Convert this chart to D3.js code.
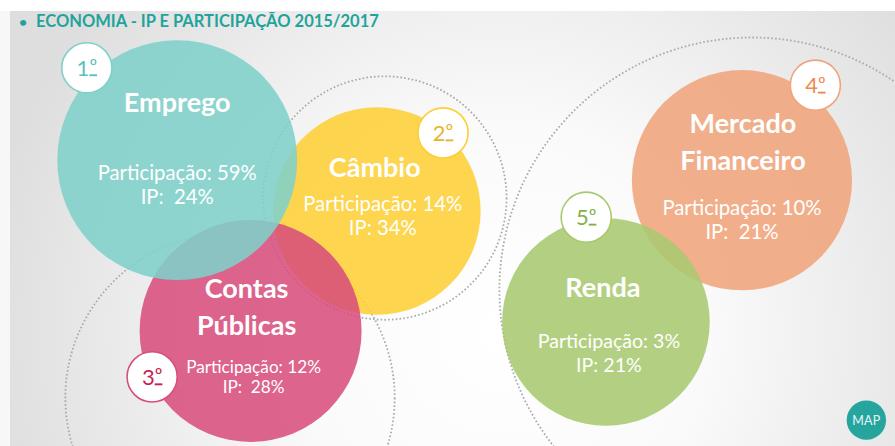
<!DOCTYPE html>
<html>
<head>
<meta charset="utf-8">
<script src="https://cdn.jsdelivr.net/npm/d3@7"></script>
<style>
  html, body { margin: 0; padding: 0; background: #f6f6f6; }
  svg { display: block; font-family: Lato, "Open Sans", sans-serif; }
  text { white-space: pre; }
</style>
</head>
<body>
<div id="chart"></div>
<script>
// data
const categories = ["Emprego", "Câmbio", "Contas Públicas", "Mercado Financeiro", "Renda"];
const titleLines = [["Emprego"], ["Câmbio"], ["Contas", "Públicas"], ["Mercado", "Financeiro"], ["Renda"]];
const participacao = [59, 14, 12, 10, 3];
const ip = [24, 34, 28, 21, 21];
const ipGap = [2, 1, 2, 2, 1];
const ranks = [1, 2, 3, 4, 5];

// layout, in percent of the slide (x and r on width, y on height)
const bubbleLayout = [
	{ cx: 19.8, cy: 35.9, r: 13.4 },
	{ cx: 42.1, cy: 47.3, r: 11.6 },
	{ cx: 28.0, cy: 74.2, r: 12.4 },
	{ cx: 82.9, cy: 40.4, r: 12.3 },
	{ cx: 67.7, cy: 72.2, r: 11.6 }
];
const badgeLayout = [
	{ cx: 9.7, cy: 15.2 },
	{ cx: 49.5, cy: 29.8 },
	{ cx: 17.0, cy: 84.5 },
	{ cx: 91.1, cy: 19.1 },
	{ cx: 65.5, cy: 48.7 }
];
// label offsets from bubble centre (px) and info text size
const labelLayout = [
	{ tx: 0, ty: -48, ix: 0, iy: 20, size: 20.3, line: 24 },
	{ tx: -2, ty: -34, ix: 6, iy: 0, size: 20.3, line: 24 },
	{ tx: -4, ty: -33, ix: 3, iy: 42, size: 17.2, line: 20.5 },
	{ tx: 1, ty: -47, ix: 0, iy: 35, size: 20.3, line: 23.5 },
	{ tx: -3, ty: -25, ix: 3, iy: 26, size: 19.6, line: 24 }
];
const ringLayout = [
	{ cx: 43.0, cy: 44.4, r: 13.6 },
	{ cx: 25.7, cy: 89.2, r: 18.4 },
	{ cx: 84.0, cy: 65.0, r: 28.2 }
];

const fills = ["#7fd0cb", "#fdcf35", "#d84f7c", "#f0a47b", "#a9c971"];
const rankColors = ["#5cc1bb", "#e8b42c", "#c91f52", "#ef8a4e", "#86b04a"];
const drawOrder = [1, 2, 0, 3, 4];

const WIDTH = 895;
const HEIGHT = 446;
const BADGE_R = 2.8;
const TITLE_LINE = 37;

const x = d3.scaleLinear().domain([0, 100]).range([0, WIDTH]);
const y = d3.scaleLinear().domain([0, 100]).range([0, HEIGHT]);
const r = d3.scaleLinear().domain([0, 100]).range([0, WIDTH]);

const svg = d3.select("#chart").append("svg")
	.attr("width", WIDTH)
	.attr("height", HEIGHT);

const defs = svg.append("defs");
const grad = defs.append("radialGradient")
	.attr("id", "bg")
	.attr("gradientUnits", "userSpaceOnUse")
	.attr("cx", 500).attr("cy", 330).attr("r", 520);
grad.append("stop").attr("offset", 0).attr("stop-color", "#ffffff");
grad.append("stop").attr("offset", 0.4).attr("stop-color", "#fafafa");
grad.append("stop").attr("offset", 1).attr("stop-color", "#dedede");

// page + slide background
svg.append("rect").attr("width", WIDTH).attr("height", HEIGHT).attr("fill", "#f7f7f7");
svg.append("rect").attr("width", WIDTH).attr("height", 11).attr("fill", "#ffffff");
svg.append("rect")
	.attr("x", 10).attr("y", 11)
	.attr("width", WIDTH - 10).attr("height", HEIGHT - 11)
	.attr("fill", "url(#bg)");

// title
const title = svg.append("text")
	.attr("y", 27)
	.attr("fill", "#1fa49c")
	.attr("font-weight", 700);
title.append("tspan").attr("x", 19).attr("font-size", 14).text("•");
title.append("tspan").attr("x", 36).attr("font-size", 16.5).text("ECONOMIA - IP E PARTICIPAÇÃO 2015/2017");

// dotted rings
svg.append("g").selectAll("circle")
	.data(ringLayout)
	.join("circle")
	.attr("cx", d => x(d.cx)).attr("cy", d => y(d.cy)).attr("r", d => r(d.r))
	.attr("fill", "none")
	.attr("stroke", "#a9a9a9")
	.attr("stroke-width", 1.8)
	.attr("stroke-dasharray", "1.6 2.2");

// bubbles
svg.append("g").selectAll("circle")
	.data(drawOrder)
	.join("circle")
	.attr("cx", i => x(bubbleLayout[i].cx))
	.attr("cy", i => y(bubbleLayout[i].cy))
	.attr("r", i => r(bubbleLayout[i].r))
	.attr("fill", i => fills[i])
	.attr("fill-opacity", 0.88);

// labels
const labels = svg.append("g").selectAll("g")
	.data(categories.map((c, i) => i))
	.join("g")
	.attr("transform", i => `translate(${x(bubbleLayout[i].cx)},${y(bubbleLayout[i].cy)})`)
	.attr("fill", "#ffffff")
	.attr("text-anchor", "middle");

labels.each(function (i) {
	const g = d3.select(this);
	const lay = labelLayout[i];
	titleLines[i].forEach((line, k) => {
		g.append("text")
			.attr("x", lay.tx).attr("y", lay.ty + k * TITLE_LINE)
			.attr("font-size", 27).attr("font-weight", 700)
			.text(line);
	});
	g.append("text")
		.attr("x", lay.ix).attr("y", lay.iy)
		.attr("font-size", lay.size)
		.text(`Participação: ${participacao[i]}%`);
	g.append("text")
		.attr("x", lay.ix).attr("y", lay.iy + lay.line)
		.attr("font-size", lay.size)
		.text(`IP:${" ".repeat(ipGap[i])}${ip[i]}%`);
});

// rank badges
const badges = svg.append("g").selectAll("g")
	.data(ranks.map((d, i) => i))
	.join("g")
	.attr("transform", i => `translate(${x(badgeLayout[i].cx)},${y(badgeLayout[i].cy)})`);

badges.append("circle")
	.attr("r", r(BADGE_R))
	.attr("fill", "#ffffff")
	.attr("stroke", i => fills[i])
	.attr("stroke-width", 1.6);

const rankText = badges.append("text")
	.attr("text-anchor", "middle")
	.attr("y", 8)
	.attr("font-size", 22)
	.attr("fill", i => rankColors[i]);
rankText.append("tspan").text(i => ranks[i]);
rankText.append("tspan")
	.attr("dy", -2.5)
	.attr("font-size", 19)
	.attr("text-decoration", "underline")
	.text("º");

// MAP logo
const logo = svg.append("g").attr("transform", `translate(${x(96.8)},${y(94.2)})`);
logo.append("circle").attr("r", r(2.2)).attr("fill", "#26a59f");
logo.append("text")
	.attr("text-anchor", "middle").attr("y", 4.5)
	.attr("font-size", 12.5).attr("fill", "#e6f6f5")
	.attr("letter-spacing", 0.3)
	.text("MAP");
</script>
</body>
</html>
